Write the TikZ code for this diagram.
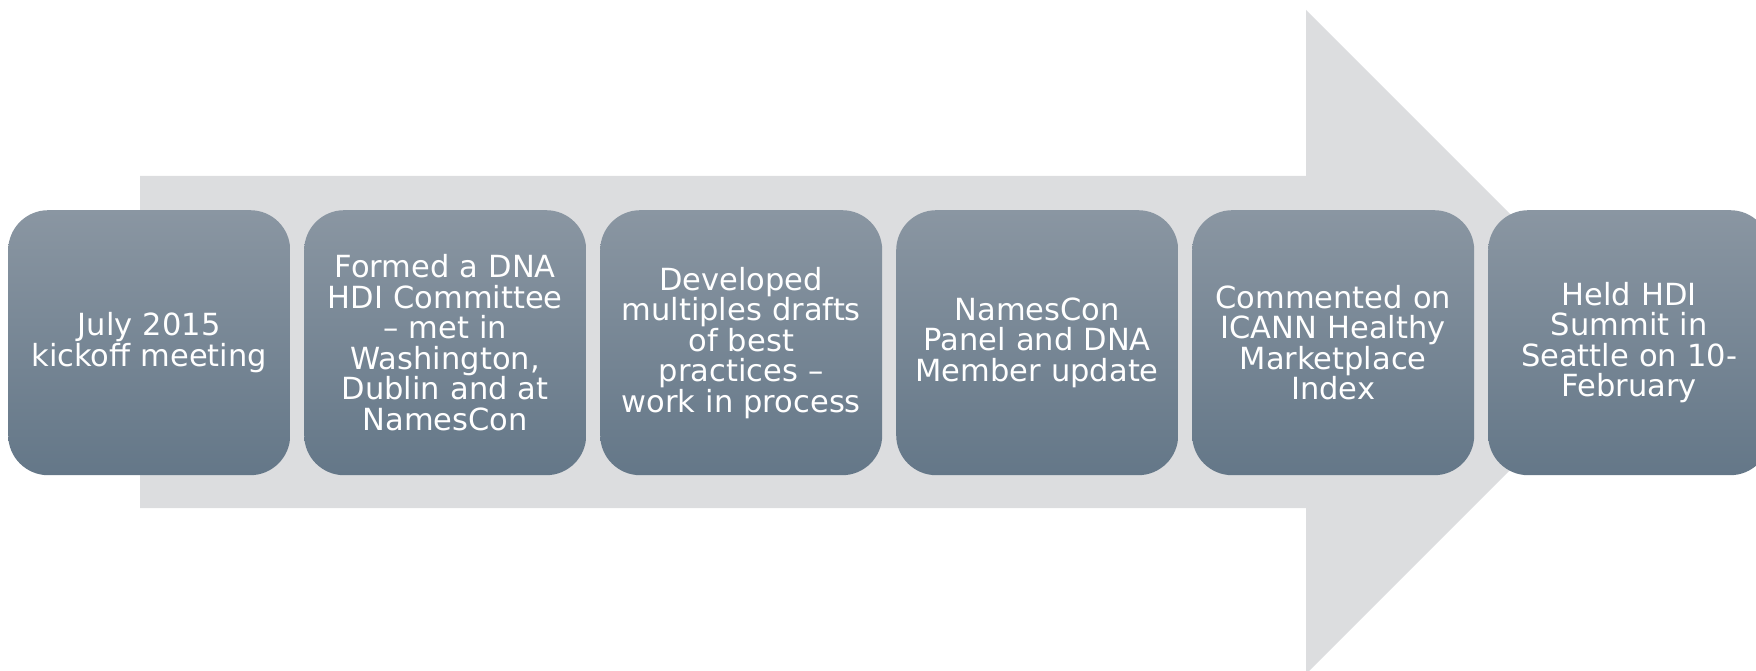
\documentclass[tikz,border=0pt]{standalone}
\usepackage{fontspec}
\setmainfont{DejaVu Sans}
\definecolor{boxtop}{HTML}{8A96A2}
\definecolor{boxbot}{HTML}{647788}
\definecolor{arrowgray}{HTML}{DCDDDF}
\begin{document}
\begin{tikzpicture}[x=1pt,y=-1pt,
  stage/.style={rounded corners=40pt, top color=boxtop, bottom color=boxbot,
    minimum width=282pt, minimum height=265pt, text width=278pt, align=center,
    text=white, font=\fontsize{30.5}{30.5}\selectfont, inner sep=0pt, anchor=north west}]
\useasboundingbox (0,0) rectangle (1756,671);
\clip (0,0) rectangle (1756,671);
\fill[arrowgray] (140,176) -- (1306,176) -- (1306,10) -- (1638,342) -- (1306,674) -- (1306,508) -- (140,508) -- cycle;
\node[stage] (b1) at (8,210) {July 2015\\kickoff meeting};
\node[stage] (b2) at (304,210) {Formed a DNA\\HDI Committee\\– met in\\Washington,\\Dublin and at\\NamesCon};
\node[stage] (b3) at (600,210) {Developed\\multiples drafts\\of best\\practices –\\work in process};
\node[stage] (b4) at (896,210) {NamesCon\\Panel and DNA\\Member update};
\node[stage] (b5) at (1192,210) {Commented on\\ICANN Healthy\\Marketplace\\Index};
\node[stage] (b6) at (1488,210) {Held HDI\\Summit in\\Seattle on 10-\\February};
\end{tikzpicture}
\end{document}
